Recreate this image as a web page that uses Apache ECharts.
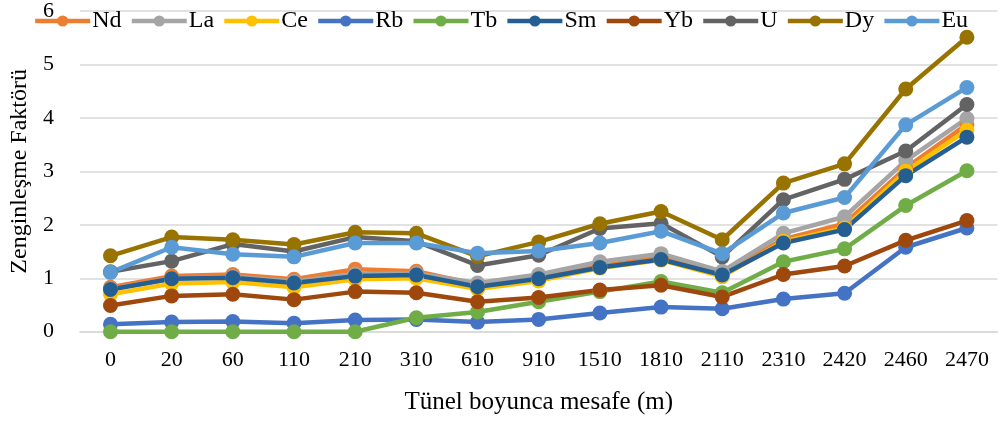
<!DOCTYPE html>
<html>
<head>
<meta charset="utf-8">
<script src="https://cdn.jsdelivr.net/npm/echarts@6/dist/echarts.min.js"></script>
<style>
  html, body { margin: 0; padding: 0; background: #fff; }
  #chart { width: 1001px; height: 423px; }
</style>
</head>
<body>
<div id="chart"></div>
<script>
// Distance along the tunnel (m)
const distances = ['0', '20', '60', '110', '210', '310', '610', '910', '1510', '1810', '2110', '2310', '2420', '2460', '2470'];

// Enrichment factor per element
const Nd = [0.83, 1.04, 1.07, 0.98, 1.17, 1.13, 0.88, 1.01, 1.23, 1.39, 1.09, 1.73, 2.02, 3.06, 3.88];
const La = [0.80, 0.99, 1.03, 0.94, 1.08, 1.09, 0.91, 1.07, 1.31, 1.46, 1.13, 1.84, 2.15, 3.20, 3.99];
const Ce = [0.70, 0.90, 0.93, 0.83, 0.98, 1.00, 0.80, 0.95, 1.19, 1.34, 1.03, 1.69, 1.94, 3.00, 3.77];
const Rb = [0.14, 0.18, 0.19, 0.16, 0.22, 0.23, 0.18, 0.23, 0.35, 0.46, 0.43, 0.61, 0.72, 1.58, 1.94];
const Tb = [0.00, 0.00, 0.00, 0.00, 0.00, 0.26, 0.37, 0.56, 0.75, 0.94, 0.73, 1.31, 1.55, 2.36, 3.01];
const Sm = [0.79, 0.99, 1.01, 0.91, 1.04, 1.06, 0.84, 0.99, 1.20, 1.35, 1.06, 1.66, 1.91, 2.92, 3.64];
const Yb = [0.49, 0.67, 0.70, 0.60, 0.75, 0.73, 0.56, 0.64, 0.78, 0.87, 0.65, 1.07, 1.23, 1.71, 2.08];
const U  = [1.12, 1.32, 1.64, 1.50, 1.77, 1.69, 1.24, 1.43, 1.93, 2.03, 1.40, 2.47, 2.85, 3.38, 4.25];
const Dy = [1.42, 1.77, 1.72, 1.63, 1.86, 1.84, 1.41, 1.68, 2.02, 2.25, 1.72, 2.78, 3.14, 4.54, 5.51];
const Eu = [1.11, 1.58, 1.45, 1.40, 1.66, 1.66, 1.47, 1.51, 1.66, 1.88, 1.46, 2.22, 2.51, 3.87, 4.57];

const seriesDefs = [
  ['Nd', Nd, '#ED7D31'],
  ['La', La, '#A5A5A5'],
  ['Ce', Ce, '#FFC000'],
  ['Rb', Rb, '#4472C4'],
  ['Tb', Tb, '#70AD47'],
  ['Sm', Sm, '#255E91'],
  ['Yb', Yb, '#9E480E'],
  ['U',  U,  '#636363'],
  ['Dy', Dy, '#997300'],
  ['Eu', Eu, '#5B9BD5']
];

const font = '"Liberation Serif", "Times New Roman", serif';

const chart = echarts.init(document.getElementById('chart'), null, { renderer: 'canvas' });
chart.setOption({
  animation: false,
  backgroundColor: '#ffffff',
  textStyle: { fontFamily: font, color: '#000' },
  legend: {
    top: 4,
    left: 'center',
    itemWidth: 55,
    itemHeight: 14,
    itemGap: 8,
    lineStyle: { width: 4.5 },
    textStyle: { fontFamily: font, fontSize: 24, color: '#000', padding: [0, 0, 0, -3] },
    data: seriesDefs.map(d => d[0])
  },
  grid: { left: 77.5, right: 3.5, top: 9.5, bottom: 91.3, containLabel: false },
  xAxis: {
    type: 'category',
    data: distances,
    boundaryGap: true,
    name: 'Tünel boyunca mesafe (m)',
    nameLocation: 'middle',
    nameGap: 58,
    nameTextStyle: { fontFamily: font, fontSize: 25, color: '#000' },
    axisLine: { show: true, lineStyle: { color: '#D9D9D9', width: 1.5 } },
    axisTick: { show: false },
    axisLabel: { fontFamily: font, fontSize: 22, color: '#000', margin: 18 }
  },
  yAxis: {
    type: 'value',
    min: 0,
    max: 6,
    interval: 1,
    name: 'Zenginleşme Faktörü',
    nameLocation: 'middle',
    nameGap: 40,
    nameTextStyle: { fontFamily: font, fontSize: 24, color: '#000' },
    axisLine: { show: false },
    axisTick: { show: false },
    axisLabel: { fontFamily: font, fontSize: 22, color: '#000', margin: 26 },
    splitLine: { lineStyle: { color: '#D9D9D9', width: 1.5 } }
  },
  series: seriesDefs.map(([name, values, color]) => ({
    name,
    type: 'line',
    data: values,
    symbol: 'circle',
    symbolSize: 15,
    showSymbol: true,
    itemStyle: { color },
    lineStyle: { color, width: 4.5 }
  }))
});
</script>
</body>
</html>
